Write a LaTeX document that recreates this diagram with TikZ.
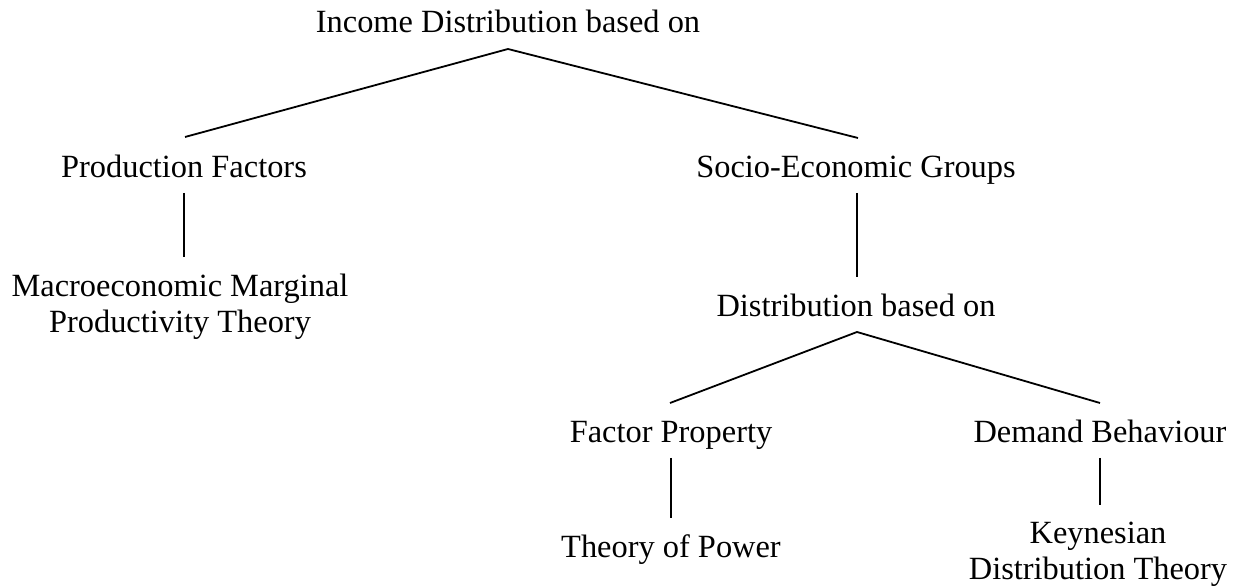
\documentclass[tikz,border=0pt]{standalone}
\usepackage{fontspec}
\setmainfont{Liberation Serif}
\usetikzlibrary{calc}
\begin{document}
\begin{tikzpicture}[x=0.5pt,y=-0.5pt,
  lbl/.style={anchor=base,inner sep=0pt,font=\fontsize{16.2pt}{18pt}\selectfont},
  conn/.style={draw=black,line width=0.9pt}]
\useasboundingbox (0,0) rectangle (1242,587);
\node[lbl] (top) at (508,33) {Income Distribution based on};
\node[lbl] (pf) at (184,178) {Production Factors};
\node[lbl] (mm) at (180,297) {\begin{tabular}[t]{@{}c@{}}Macroeconomic Marginal\\Productivity Theory\end{tabular}};
\node[lbl] (seg) at (856,178) {Socio-Economic Groups};
\node[lbl] (db) at (856,317) {Distribution based on};
\node[lbl] (fp) at (671,443) {Factor Property};
\node[lbl] (tp) at (671,557) {Theory of Power};
\node[lbl] (dbh) at (1100,443) {Demand Behaviour};
\node[lbl] (kd) at (1098,543) {\begin{tabular}[t]{@{}c@{}}Keynesian\\Distribution Theory\end{tabular}};
\draw[conn] ($(pf.base)+(1,-41)$) -- ($(top.base)+(0,16)$) -- ($(seg.base)+(2,-40)$);
\draw[conn] ($(pf.base)+(0,15)$) -- ($(mm.base)+(4,-40)$);
\draw[conn] ($(seg.base)+(1,15)$) -- ($(db.base)+(1,-40)$);
\draw[conn] ($(fp.base)+(-1,-40)$) -- ($(db.base)+(1,15)$) -- ($(dbh.base)+(0,-40)$);
\draw[conn] ($(fp.base)+(0,15)$) -- ($(tp.base)+(0,-39)$);
\draw[conn] ($(dbh.base)+(0,15)$) -- ($(kd.base)+(2,-38)$);
\end{tikzpicture}
\end{document}
